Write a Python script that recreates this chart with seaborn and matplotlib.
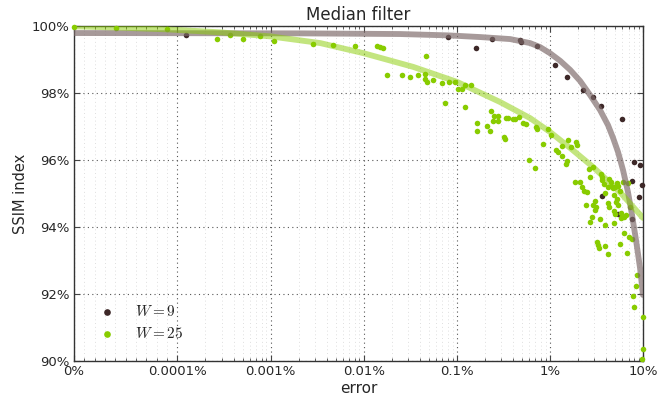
import matplotlib
matplotlib.use("Agg")
import matplotlib.pyplot as plt
import seaborn as sns
import numpy as np
import pandas as pd
from matplotlib.ticker import FixedLocator, FixedFormatter

# ---------------- data (error in %, SSIM in %) ----------------
w9_err = [1.25e-4, 0.0809, 0.161, 0.240, 0.479, 0.490, 0.729, 1.14, 1.53, 2.27,
          2.91, 3.54, 5.95, 8.00, 9.29, 7.62, 9.85, 3.63, 9.06, 5.39, 7.62]
w9_ssim = [99.74, 99.67, 99.34, 99.61, 99.58, 99.52, 99.40, 98.84, 98.48, 98.09,
           97.88, 97.61, 97.22, 95.94, 95.85, 95.37, 95.25, 94.94, 94.90, 94.40, 94.24]

w25_err = [0.0, 4.05e-5, 8.98e-5, 2.69e-4, 3.71e-4, 5.11e-4, 7.76e-4, 1.10e-3, 2.88e-3, 4.72e-3,
           8.13e-3, 0.0140, 0.0151, 0.0162, 0.0470, 0.0179, 0.0259, 0.0316, 0.0385, 0.0458,
           0.0458, 0.0481, 0.0558, 0.0697, 0.0828, 0.0961, 0.1035, 0.1143, 0.1230, 0.1426,
           0.0750, 0.1230,
           0.234, 0.245, 0.252, 0.278, 0.278, 0.166, 0.166, 0.212, 0.228, 0.339,
           0.356, 0.403, 0.423, 0.467, 0.515, 0.556, 0.711, 0.729, 0.957, 1.03,
           0.323, 0.330, 0.845, 0.598, 0.693,
           1.16, 1.22, 1.35, 1.35, 1.57, 1.69, 1.91, 1.96, 1.53, 1.49,
           2.64, 2.91, 2.70, 3.54, 3.63, 3.63, 3.82, 4.32, 4.54, 4.54,
           4.77, 5.26, 5.39, 6.10, 6.90, 1.86, 2.11, 2.21, 2.33, 2.51,
           3.91, 4.21, 5.01,
           4.89, 5.66, 3.05, 2.91, 3.13, 3.05, 2.44, 4.21, 4.32, 5.13,
           5.26, 5.39, 4.89, 5.01, 5.80, 5.80, 6.57, 6.25, 7.26, 2.84,
           2.70, 3.46, 3.91, 4.89, 6.25, 7.08, 7.62, 3.21, 3.29, 3.37,
           3.91, 4.21, 5.66, 6.73, 8.62, 8.41, 7.81, 8.00, 9.9, 9.9, 9.75]
w25_ssim = [99.98, 99.93, 99.90, 99.61, 99.74, 99.62, 99.70, 99.54, 99.46, 99.43,
            99.41, 99.41, 99.38, 99.34, 99.11, 98.54, 98.54, 98.47, 98.54, 98.56,
            98.42, 98.32, 98.39, 98.29, 98.34, 98.34, 98.11, 98.11, 98.23, 98.23,
            97.69, 97.59,
            97.47, 97.16, 97.31, 97.31, 97.17, 97.10, 96.87, 97.01, 96.87, 97.24,
            97.26, 97.22, 97.21, 97.29, 97.11, 97.07, 96.98, 96.92, 96.92, 96.75,
            96.70, 96.62, 96.47, 96.00, 95.77,
            96.30, 96.25, 96.12, 96.42, 96.60, 96.40, 96.55, 96.45, 95.98, 95.87,
            95.73, 95.79, 95.49, 95.58, 95.49, 95.40, 95.28, 95.43, 95.34, 95.22,
            95.16, 95.31, 95.22, 95.34, 95.31, 95.34, 95.34, 95.19, 95.07, 95.04,
            95.01, 95.19, 95.19,
            94.96, 95.07, 94.78, 94.66, 94.60, 94.51, 94.66, 94.72, 94.60, 94.75,
            94.84, 94.66, 94.48, 94.39, 94.42, 94.27, 94.36, 94.30, 94.60, 94.30,
            94.15, 94.24, 94.06, 94.12, 93.82, 93.70, 93.64, 93.55, 93.46, 93.37,
            93.43, 93.19, 93.49, 93.22, 92.57, 92.24, 91.94, 91.61, 91.31, 90.36, 90.06]

fit9_err = [0.0, 2.09e-3, 0.0247, 0.0809, 0.178, 0.374, 0.613, 0.785, 1.00, 1.29,
            1.65, 2.11, 2.70, 3.46, 4.21, 4.77, 5.39, 6.10, 6.90, 7.62, 8.41, 9.29, 10.0]
fit9_ssim = [99.79, 99.78, 99.76, 99.72, 99.67, 99.61, 99.49, 99.37, 99.19, 98.96,
             98.69, 98.36, 97.94, 97.49, 97.04, 96.66, 96.24, 95.70, 95.04, 94.36, 93.61, 92.78, 91.97]

fit25_err = [0.0, 4.44e-5, 8.98e-5, 2.89e-4, 9.95e-4, 3.42e-3, 9.9e-3, 0.0340, 0.101, 0.292,
             0.613, 1.00, 1.65, 2.91, 5.66, 10.0]
fit25_ssim = [99.99, 99.95, 99.90, 99.81, 99.69, 99.49, 99.19, 98.78, 98.33, 97.73,
              97.25, 96.84, 96.36, 95.79, 95.04, 94.27]

xtick_vals = [0, 1e-4, 1e-3, 1e-2, 1e-1, 1, 10]
xtick_labels = ["0%", "0.0001%", "0.001%", "0.01%", "0.1%", "1%", "10%"]
ytick_vals = [90, 92, 94, 96, 98, 100]
ytick_labels = ["90%", "92%", "94%", "96%", "98%", "100%"]

# ---------------- style ----------------
sns.set_style("white")
plt.rcParams["font.family"] = ["DejaVu Sans"]
plt.rcParams["mathtext.fontset"] = "cm"

dark = "#3d2828"
green = "#88cc00"

fig = plt.figure(figsize=(6.65, 3.98), dpi=100)
ax = fig.add_axes([74/665, 1 - 361/398, (643 - 74)/665, (361 - 26)/398])

sns.scatterplot(x=w9_err, y=w9_ssim, ax=ax, color=dark, s=16, linewidth=0,
                label="$W = 9$", zorder=3, clip_on=False)
sns.scatterplot(x=w25_err, y=w25_ssim, ax=ax, color=green, s=16, linewidth=0,
                label="$W = 25$", zorder=3, clip_on=False)

sns.lineplot(x=fit9_err, y=fit9_ssim, ax=ax, color="#7d6a6a", alpha=0.68, lw=4.2,
             sort=False, zorder=4, legend=False)
sns.lineplot(x=fit25_err, y=fit25_ssim, ax=ax, color=green, alpha=0.5, lw=4.2,
             sort=False, zorder=4, legend=False)

ax.set_xscale("symlog", linthresh=1e-4, linscale=1)
ax.set_xlim(0, 10)
ax.set_ylim(90, 100)

minor = [k * 1e-5 for k in range(1, 10)]
for e in range(-4, 1):
    minor += [k * 10.0**e for k in range(2, 10)]
ax.xaxis.set_major_locator(FixedLocator(xtick_vals))
ax.xaxis.set_major_formatter(FixedFormatter(xtick_labels))
ax.xaxis.set_minor_locator(FixedLocator(minor))
ax.set_yticks(ytick_vals)
ax.set_yticklabels(ytick_labels)

ax.grid(True, which="major", axis="both", color="#555555", linestyle=(0, (1.0, 3.0)), lw=0.8)
ax.grid(True, which="minor", axis="x", color="#d4d4d4", linestyle=(0, (1.0, 3.5)), lw=0.6)
ax.set_axisbelow(True)

ax.tick_params(which="both", direction="in", top=True, right=True, bottom=True, left=True,
               labelsize=9.5, color="#444444")
ax.tick_params(which="major", length=4)
ax.tick_params(which="minor", length=2)
ax.tick_params(axis="x", pad=3)
for sp in ax.spines.values():
    sp.set_visible(True)
    sp.set_color("#333333")
    sp.set_linewidth(1.0)

ax.set_title("Median filter", fontsize=12, pad=4)
ax.set_xlabel("error", fontsize=11, labelpad=2)
ax.set_ylabel("SSIM index", fontsize=10.5, labelpad=2)

leg = ax.legend(loc="lower left", frameon=False, fontsize=11, handletextpad=0.8,
                borderaxespad=0.6, bbox_to_anchor=(0.005, 0.015), labelspacing=0.45,
                markerscale=1.2)

fig.savefig("out.png", dpi=100)
